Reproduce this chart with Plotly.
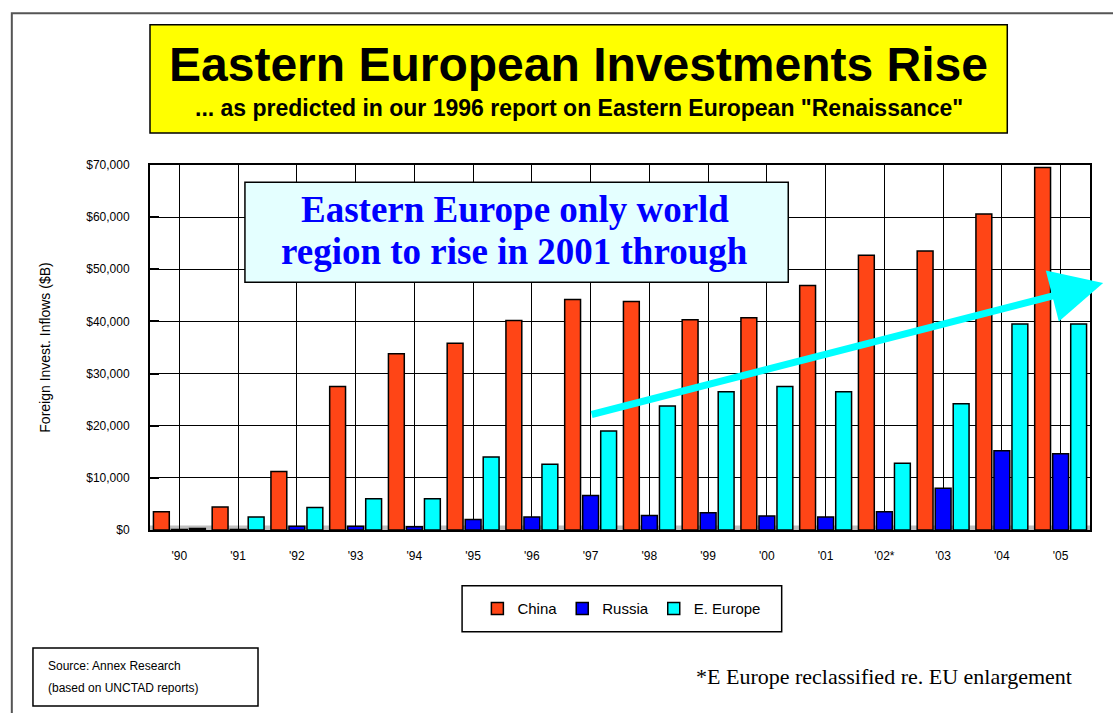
"""Eastern European investments chart, rebuilt in plotly."""
import plotly.graph_objects as go

years = ["'90", "'91", "'92", "'93", "'94", "'95", "'96", "'97",
         "'98", "'99", "'00", "'01", "'02*", "'03", "'04", "'05"]
china = [3500, 4400, 11200, 27500, 33800, 35800, 40200, 44200,
         43800, 40300, 40700, 46900, 52700, 53500, 60600, 69500]
russia = [100, 100, 700, 700, 600, 2000, 2500, 6600,
          2800, 3300, 2700, 2500, 3500, 8000, 15200, 14600]
e_europe = [300, 2500, 4300, 6000, 6000, 14000, 12600, 19000,
            23800, 26500, 27500, 26500, 12800, 24200, 39500, 39500]
y_ticks = [0, 10000, 20000, 30000, 40000, 50000, 60000, 70000]

fig = go.Figure()
fig.add_trace(go.Bar(x=years, y=china, name='China',
                     marker=dict(color='#ff4516', line=dict(color='black', width=1.5))))
fig.add_trace(go.Bar(x=years, y=russia, name='Russia',
                     marker=dict(color='#0000ff', line=dict(color='black', width=1.5))))
fig.add_trace(go.Bar(x=years, y=e_europe, name='E. Europe',
                     marker=dict(color='#00ffff', line=dict(color='black', width=1.5))))

sans = 'Liberation Sans, Arial, sans-serif'
serif = 'Liberation Serif, Times New Roman, serif'

fig.update_layout(
    barmode='group',
    bargap=0.08,
    bargroupgap=0.12,
    width=1113,
    height=713,
    margin=dict(l=150, r=23, t=165, b=183),
    paper_bgcolor='white',
    plot_bgcolor='white',
    font=dict(family=sans, color='black'),
    legend=dict(orientation='h', x=0.502, xanchor='center', y=-0.216, yanchor='middle',
                borderwidth=0, font=dict(size=15), bgcolor='rgba(0,0,0,0)',
                itemwidth=30, traceorder='normal'),
)

fig.update_xaxes(showgrid=True, gridcolor='black', gridwidth=1,
                 showline=True, linecolor='black', linewidth=2, mirror=True,
                 ticks='', tickfont=dict(size=12), ticklabelstandoff=14, automargin=False)
fig.update_yaxes(range=[0, 70000], tickvals=y_ticks, tickformat='$,',
                 showgrid=True, gridcolor='black', gridwidth=1,
                 showline=True, linecolor='black', linewidth=2, mirror=True,
                 ticks='inside', ticklen=9, tickcolor='black', tickwidth=1.5,
                 tickfont=dict(size=12), ticklabelstandoff=16, zeroline=False,
                 automargin=False,
                 title=dict(text='Foreign Invest. Inflows ($B)', font=dict(size=14),
                            standoff=32))

# outer frame and the grey floor under the bars
fig.add_shape(type='path', xref='paper', yref='paper',
              path='M -0.147 -0.51 L -0.147 1.416 L 1.03 1.416',
              line=dict(color='#555555', width=2))
fig.add_shape(type='rect', xref='paper', yref='paper', x0=0, x1=1, y0=0, y1=0.012,
              fillcolor='#c0c0c0', line=dict(width=0), layer='below')

# title box
fig.add_shape(type='rect', xref='paper', yref='paper', x0=0, x1=0.912, y0=1.088, y1=1.384,
              fillcolor='#ffff00', line=dict(color='black', width=1.5))
fig.add_annotation(text='<b>Eastern European Investments Rise</b>', xref='paper', yref='paper',
                   x=0.456, y=1.274, xanchor='center', yanchor='middle', showarrow=False,
                   font=dict(size=48, family=sans))
fig.add_annotation(text='<b>... as predicted in our 1996 report on Eastern European "Renaissance"</b>',
                   xref='paper', yref='paper', x=0.456, y=1.156, xanchor='center', yanchor='middle',
                   showarrow=False, font=dict(size=23, family=sans))

# callout box
fig.add_shape(type='rect', xref='paper', yref='paper', x0=0.101, x1=0.679, y0=0.679, y1=0.953,
              fillcolor='#e4ffff', line=dict(color='black', width=1.5))
fig.add_annotation(text='<b>Eastern Europe only world</b>', xref='paper', yref='paper',
                   x=0.388, y=0.877, xanchor='center', yanchor='middle', showarrow=False,
                   font=dict(size=37, family=serif, color='#0000ff'))
fig.add_annotation(text='<b>region to rise in 2001 through</b>', xref='paper', yref='paper',
                   x=0.388, y=0.762, xanchor='center', yanchor='middle', showarrow=False,
                   font=dict(size=37, family=serif, color='#0000ff'))

# trend arrow (tail given as pixel offset from the tip)
fig.add_annotation(xref='paper', yref='paper', x=1.014, y=0.677,
                   ax=-513, ay=132,
                   text='', showarrow=True, arrowhead=2, arrowsize=1.5,
                   arrowwidth=7, arrowcolor='#00ffff')

# legend frame
fig.add_shape(type='rect', xref='paper', yref='paper', x0=0.332, x1=0.672, y0=-0.279, y1=-0.153,
              fillcolor='white', line=dict(color='black', width=1.5))

# source box and footnote
fig.add_shape(type='rect', xref='paper', yref='paper', x0=-0.1245, x1=0.1149, y0=-0.482, y1=-0.323,
              fillcolor='white', line=dict(color='black', width=1.5))
fig.add_annotation(text='Source: Annex Research', xref='paper', yref='paper',
                   x=-0.1106, y=-0.3726, xanchor='left', yanchor='middle', showarrow=False,
                   font=dict(size=12, family=sans))
fig.add_annotation(text='(based on UNCTAD reports)', xref='paper', yref='paper',
                   x=-0.1106, y=-0.4329, xanchor='left', yanchor='middle', showarrow=False,
                   font=dict(size=12, family=sans))
fig.add_annotation(text='*E Europe reclassified re. EU enlargement', xref='paper', yref='paper',
                   x=0.781, y=-0.4, xanchor='center', yanchor='middle', showarrow=False,
                   font=dict(size=22, family=serif))

# page has a default body margin; drop it so the figure sits at the window origin
fig.write_html("out.html", config={'displayModeBar': False},
               post_script="document.body.style.margin='0';")
